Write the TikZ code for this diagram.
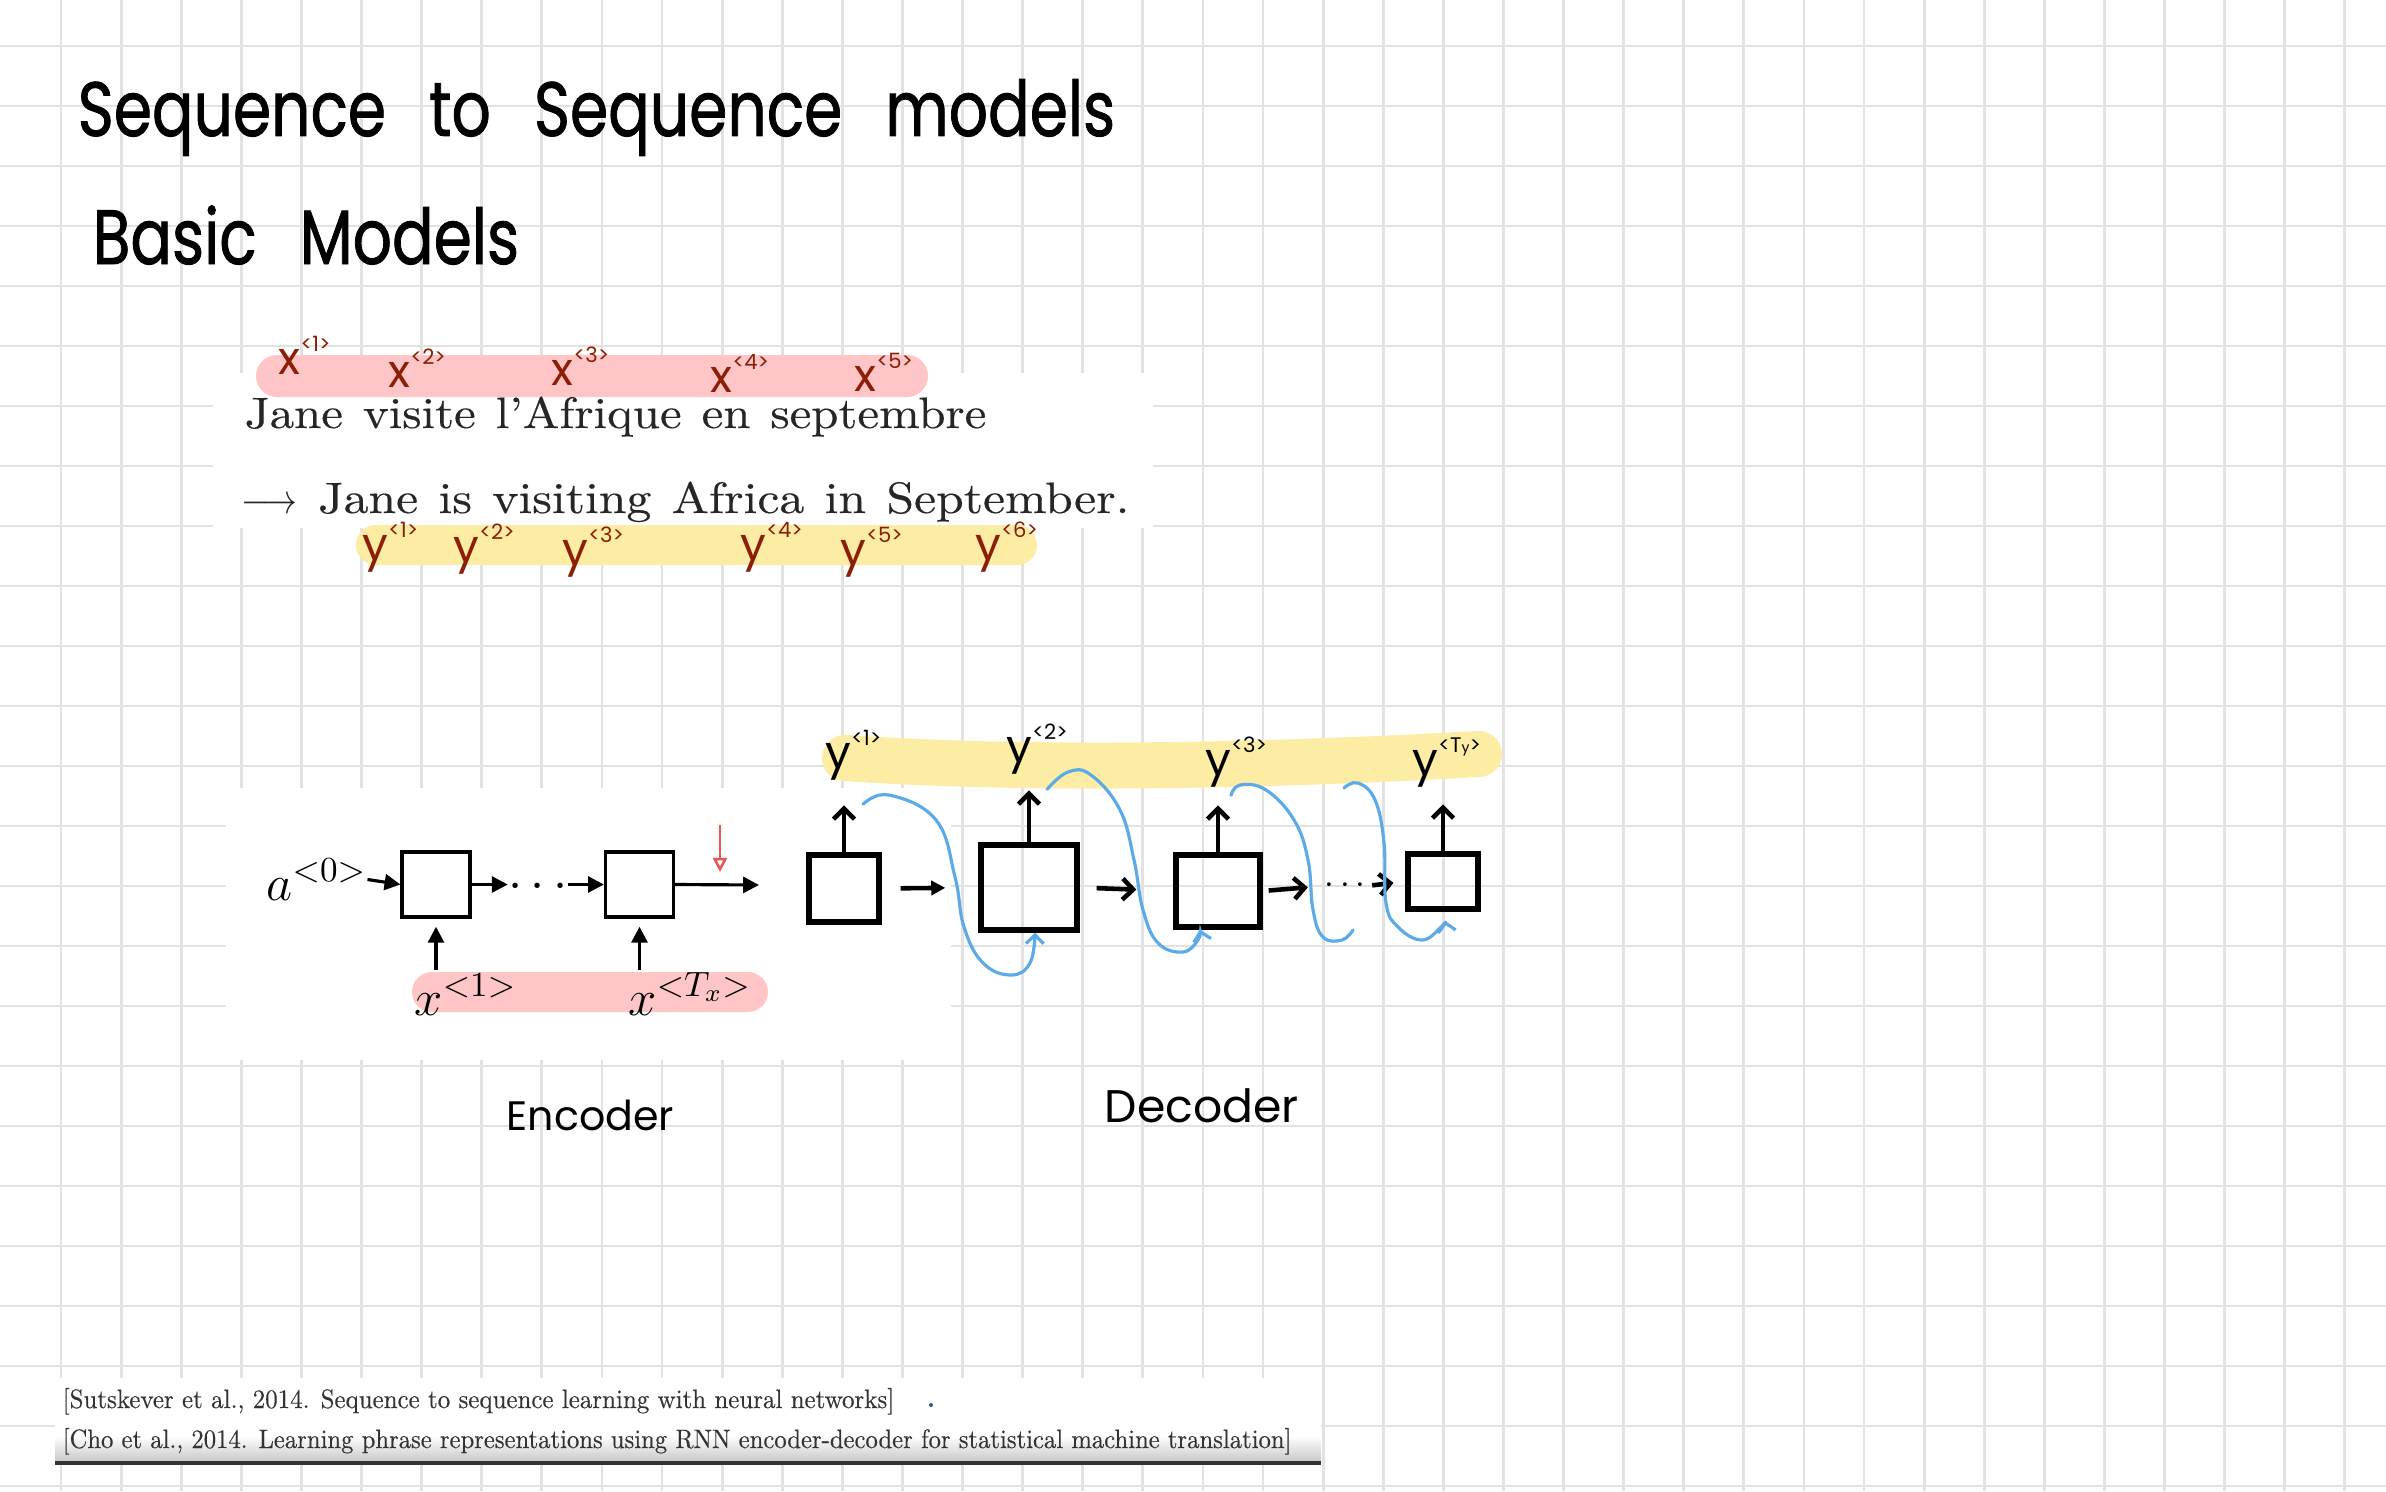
\documentclass[tikz,border=0pt]{standalone}
\usepackage{fontspec}
\usepackage{graphicx}
\usetikzlibrary{arrows.meta}
\newfontfamily\mano{Poppins}
\newfontfamily\manogrueso{Poppins}[FakeBold=1.2]
\newfontfamily\lmgrueso{lmroman10-regular}[Extension=.otf, FakeBold=0.3]
\definecolor{rosa}{RGB}{255,197,199}
\definecolor{amarillo}{RGB}{253,236,164}
\definecolor{marron}{RGB}{140,30,5}
\definecolor{azul}{RGB}{92,170,232}
\definecolor{rojo}{RGB}{238,84,84}
\definecolor{rejilla}{RGB}{226,226,226}
\newcommand{\etiq}[2]{#1\raisebox{.5em}{\fontsize{6}{6}\selectfont <#2>}}
\begin{document}
\begin{tikzpicture}[x=0.01cm, y=-0.01cm,
		caja/.style={draw, line width=0.9pt, minimum width=0.68cm, minimum height=0.65cm, inner sep=0},
		cajamano/.style={draw, line width=1.5pt, inner sep=0},
		flecha/.style={line width=0.9pt, -{Triangle[length=4.5pt, width=4.5pt]}},
		flechamano/.style={line width=1.3pt, -{Straight Barb[length=3pt, width=6pt]}},
		flechaazul/.style={-{Straight Barb[length=2.5pt, width=5pt]}},
		azulada/.style={azul, line width=0.9pt, line cap=round},
		mate/.style={font=\fontsize{14}{16}\selectfont, inner sep=0, anchor=base west},
		letra/.style={font=\mano\fontsize{13}{15}\selectfont, inner sep=0, anchor=base west}]
			% Fondo y rejilla
				\useasboundingbox (0,0) rectangle (2386,1491);
				\fill[white] (0,0) rectangle (2386,1491);
				\foreach \i in {0,...,38} \draw[rejilla, line width=0.8pt] (61+60.1*\i,0) -- ++(0,1491);
				\foreach \j in {0,...,24} \draw[rejilla, line width=0.8pt] (0,46+60*\j) -- ++(2386,0);
			% Recortes
				\fill[white] (213,373) rectangle (1153,528);
				\fill[white] (226,788) rectangle (951,1060);
				\fill[white] (55,1378) rectangle (1321,1463);
				\shade[top color=white, bottom color=black!22] (55,1436) rectangle (1321,1462);
				\draw[black!80, line width=1pt] (55,1463) -- (1321,1463);
			% Titulo
				\node[anchor=base west, inner sep=0, font=\manogrueso\fontsize{17.5}{21}\selectfont] (titulo) at (77,136) {\scalebox{1}[1.25]{\spaceskip=.7em Sequence to Sequence models}};
				\node[anchor=base west, inner sep=0, font=\manogrueso\fontsize{17.5}{21}\selectfont] (subtitulo) at (92,264) {\scalebox{1}[1.25]{\spaceskip=.7em Basic Models}};
			% Frases
				\fill[rosa, rounded corners=0.21cm] (256,355) rectangle (928,397);
				\fill[amarillo, rounded corners=0.2cm] (356,525) rectangle (1037,565);
				\node[anchor=base west, inner sep=0, text=black!85, font=\lmgrueso\fontsize{12.5}{14}\selectfont] (frances) at (244,428) {\scalebox{1.11}[1]{\spaceskip=.41em Jane visite l’Afrique en septembre}};
				\node[anchor=base west, inner sep=0, text=black!85, font=\lmgrueso\fontsize{12.5}{14}\selectfont] (ingles) at (241,513) {\scalebox{1.13}[1]{\spaceskip=.41em \scalebox{.73}[1]{$\longrightarrow$} Jane is visiting Africa in September.}};
				\node[letra, marron] (fx1) at (278,374) {\etiq{x}{1}};
				\node[letra, marron] (fx2) at (388,387) {\etiq{x}{2}};
				\node[letra, marron] (fx3) at (551,385) {\etiq{x}{3}};
				\node[letra, marron] (fx4) at (710,392) {\etiq{x}{4}};
				\node[letra, marron] (fx5) at (854,391) {\etiq{x}{5}};
				\node[letra, marron] (fy1) at (362,560) {\etiq{y}{1}};
				\node[letra, marron] (fy2) at (453,562) {\etiq{y}{2}};
				\node[letra, marron] (fy3) at (562,565) {\etiq{y}{3}};
				\node[letra, marron] (fy4) at (740,560) {\etiq{y}{4}};
				\node[letra, marron] (fy5) at (840,565) {\etiq{y}{5}};
				\node[letra, marron] (fy6) at (975,560) {\etiq{y}{6}};
			% Codificador
				\fill[rosa, rounded corners=0.2cm] (412,972) rectangle (768,1012);
				\node[mate] (a0) at (266,900) {$a^{<0>}$};
				\node[caja] (e1) at (436,884.5) {};
				\node[inner sep=0, font=\fontsize{14}{16}\selectfont] (puntos) at (538,887) {$\cdots$};
				\node[caja] (e2) at (639.5,884.5) {};
				\node[mate] (x1) at (414,1015) {$x^{<1>}$};
				\node[mate] (xT) at (628,1015) {$x^{<T_x>}$};
				\coordinate (salida) at (759,885);
				\coordinate (marca) at (720,825);
				\draw[flecha] (a0.east) -- (e1.west);
				\draw[flecha] (e1.east) -- (e1.east -| puntos.west);
				\draw[flecha] (puntos.east |- e2.west) -- (e2.west);
				\draw[flecha] (e2.east) -- (salida);
				\draw[flecha, shorten >=2.3pt] ([yshift=-0.51cm]e1.south) -- (e1.south);
				\draw[flecha, shorten >=2.3pt] ([yshift=-0.51cm]e2.south) -- (e2.south);
				\draw[rojo, line width=0.7pt, -{Triangle[open, length=4pt, width=4pt]}] (marca) -- ++(0,47);
			% Decodificador
				\draw[amarillo, line width=0.46cm, line cap=round] (845,758) .. controls (1050,772) and (1300,764) .. (1479,754);
				\node[letra] (y1) at (825,768) {\etiq{y}{1}};
				\node[letra] (y2) at (1006,762) {\etiq{y}{2}};
				\node[letra] (y3) at (1205,775) {\etiq{y}{3}};
				\node[letra] (y4) at (1412,775) {\etiq{y}{T{\fontsize{4}{4}\selectfont y}}};
				\node[cajamano, minimum width=0.70cm, minimum height=0.67cm] (d1) at (844,888.5) {};
				\node[cajamano, minimum width=0.96cm, minimum height=0.85cm] (d2) at (1029,887.5) {};
				\node[cajamano, minimum width=0.84cm, minimum height=0.72cm] (d3) at (1218,891) {};
				\node[cajamano, minimum width=0.70cm, minimum height=0.55cm] (d4) at (1443,881.5) {};
				\node[inner sep=0, font=\fontsize{10}{12}\selectfont] (puntos2) at (1345,886) {$\cdots$};
				\draw[flechamano] (d1.north) -- ([yshift=0.47cm]d1.north);
				\draw[flechamano] (d2.north) -- ([yshift=0.52cm]d2.north);
				\draw[flechamano] (d3.north) -- ([yshift=0.47cm]d3.north);
				\draw[flechamano] (d4.north) -- ([yshift=0.47cm]d4.north);
				\draw[line width=1.3pt, -{Triangle[length=4pt, width=4pt]}, shorten <=0.19cm, shorten >=0.33cm] (d1.east) -- (d2.west);
				\draw[flechamano, shorten <=0.17cm, shorten >=0.37cm] (d2.east) -- (d3.west);
				\draw[flechamano, shorten <=0.06cm, shorten >=0.16cm] (d3.east) -- (puntos2.west);
				\draw[flechamano, shorten <=0.06cm, shorten >=0.12cm] (puntos2.east) -- (d4.west);
			% Curvas azules
				\coordinate (b1) at ([shift={(0.19cm,0.48cm)}]d1.north);
				\coordinate (b2) at ([shift={(0.18cm,0.53cm)}]d2.north);
				\coordinate (b3) at ([shift={(0.13cm,0.57cm)}]d3.north);
				\coordinate (b4) at (1344,788);
				\coordinate (f1) at ([xshift=0.06cm]d2.south);
				\coordinate (f2) at ([xshift=-0.18cm]d3.south);
				\coordinate (f3) at (1353,930);
				\coordinate (f4) at ([shift={(0.02cm,-0.09cm)}]d4.south);
				\draw[azulada, flechaazul] plot[smooth, tension=.7] coordinates {(b1) (889,795) (936,820) (955,877) (964,927) (983,963) (1011,975) (1030,963) (f1)};
				\draw[azulada, flechaazul] plot[smooth, tension=.7] coordinates {(b2) (1068,772) (1091,775) (1120,810) (1134,860) (1143,910) (1158,943) (1183,952) (1198,940) (f2)};
				\draw[azulada] plot[smooth, tension=.7] coordinates {(b3) (1240,785) (1266,790) (1294,820) (1308,860) (1313,910) (1323,937) (1342,940) (f3)};
				\draw[azulada, flechaazul] plot[smooth, tension=.7] coordinates {(b4) (1358,783) (1375,800) (1384,843) (1386,903) (1398,927) (1422,940) (1441,927) (f4)};
			% Rotulos
				\node[anchor=base west, inner sep=0, font=\mano\fontsize{11.7}{14}\selectfont] (codif) at (506,1130) {Encoder};
				\node[anchor=base west, inner sep=0, font=\mano\fontsize{13}{15}\selectfont] (decod) at (1104,1122) {Decoder};
			% Citas
				\node[anchor=base west, inner sep=0, text=black!80, font=\lmgrueso] (cita1) at (62,1408) {\resizebox{8.31cm}{0.2cm}{[Sutskever et al., 2014. Sequence to sequence learning with neural networks]}};
				\node[anchor=base west, inner sep=0, text=black!80, font=\lmgrueso] (cita2) at (62,1448) {\resizebox{12.28cm}{0.2cm}{[Cho et al., 2014. Learning phrase representations using RNN encoder-decoder for statistical machine translation]}};
				\fill[black!45!azul] (931,1405) circle (2);
\end{tikzpicture}
\end{document}
